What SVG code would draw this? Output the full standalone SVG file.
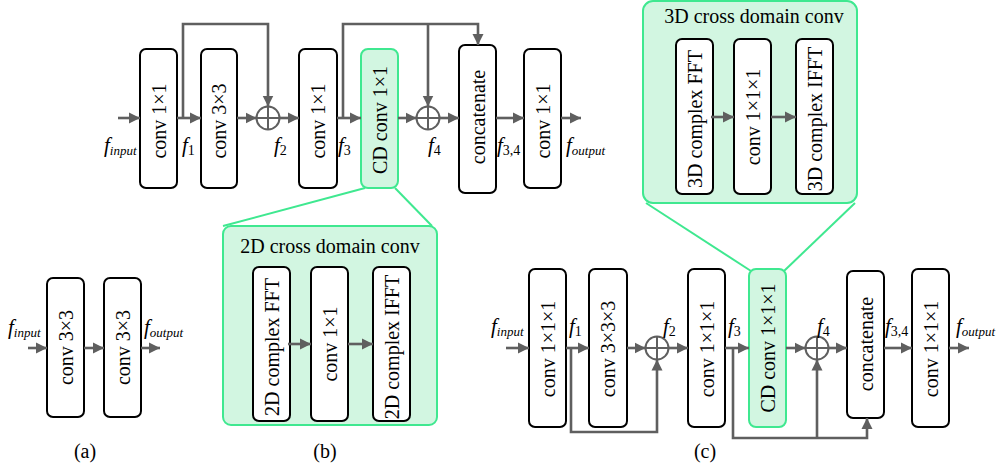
<svg xmlns="http://www.w3.org/2000/svg" width="996" height="470" viewBox="0 0 996 470">
<defs>
<marker id="ah" markerUnits="userSpaceOnUse" markerWidth="12" markerHeight="12" refX="11" refY="6" orient="auto">
<path d="M0,0.5 L11,6 L0,11.5 Z" fill="#5f5f5f"/>
</marker>
</defs>
<style>
.box{fill:#fff;stroke:#000;stroke-width:2}
.gbox{fill:#d2f6e1;stroke:#3fe890;stroke-width:2}
.gline{fill:none;stroke:#3fe890;stroke-width:2}
.c{fill:none;stroke:#5f5f5f;stroke-width:2.6}
.a{fill:none;stroke:#5f5f5f;stroke-width:2.6;marker-end:url(#ah)}
.sum{fill:#fff;stroke:#5f5f5f;stroke-width:2}
.t{font-family:"Liberation Serif","Times New Roman",serif;font-size:20px;fill:#000;text-anchor:middle}
.lab{font-family:"Liberation Serif","Times New Roman",serif;font-size:21px;fill:#000;font-style:italic}
.sub{font-size:13px}
.subn{font-size:14px;font-style:normal}
</style>

<!-- ===== (a) ===== -->
<g id="a-conv1"><rect class="box" x="47" y="278" width="37" height="139" rx="6"/><text class="t" transform="translate(65.5,347.5) rotate(-90)" y="7">conv 3×3</text></g>
<g id="a-conv2"><rect class="box" x="104" y="278" width="37" height="139" rx="6"/><text class="t" transform="translate(122.5,347.5) rotate(-90)" y="7">conv 3×3</text></g>
<g id="a-connectors">
<line class="a" x1="28" y1="348" x2="47" y2="348"/>
<line class="a" x1="84" y1="348" x2="104" y2="348"/>
<line class="a" x1="141" y1="348" x2="160" y2="348"/>
</g>
<text class="lab" x="8" y="334">f<tspan class="sub" dy="3">input</tspan></text>
<text class="lab" x="144" y="334">f<tspan class="sub" dy="3">output</tspan></text>
<text class="t" x="85" y="458">(a)</text>

<!-- ===== (b) ===== -->
<g id="b-conv1"><rect class="box" x="140" y="49" width="37" height="139" rx="6"/><text class="t" transform="translate(158.5,121) rotate(-90)" y="7">conv 1×1</text></g>
<g id="b-conv2"><rect class="box" x="201" y="49" width="36" height="139" rx="6"/><text class="t" transform="translate(219,121) rotate(-90)" y="7">conv 3×3</text></g>
<g id="b-sum1"><circle class="sum" cx="268" cy="118" r="11.5"/><path class="sum" d="M256.5,118 H279.5 M268,106.5 V129.5"/></g>
<g id="b-conv3"><rect class="box" x="299" y="49" width="38" height="139" rx="6"/><text class="t" transform="translate(318,121) rotate(-90)" y="7">conv 1×1</text></g>
<g id="b-cdconv"><rect class="gbox" x="361" y="49" width="37" height="139" rx="7"/><text class="t" transform="translate(379.5,120) rotate(-90)" y="7">CD conv 1×1</text></g>
<g id="b-sum2"><circle class="sum" cx="428" cy="118" r="11.5"/><path class="sum" d="M416.5,118 H439.5 M428,106.5 V129.5"/></g>
<g id="b-concat"><rect class="box" x="459" y="45" width="37" height="148" rx="6"/><text class="t" transform="translate(477.5,117) rotate(-90)" y="7">concatenate</text></g>
<g id="b-conv4"><rect class="box" x="524" y="49" width="37" height="139" rx="6"/><text class="t" transform="translate(542.5,121) rotate(-90)" y="7">conv 1×1</text></g>
<g id="b-connectors">
<line class="a" x1="118" y1="118" x2="140" y2="118"/>
<line class="a" x1="177" y1="118" x2="201" y2="118"/>
<polyline class="a" points="183,118 183,24 268,24 268,106.5"/>
<line class="a" x1="237" y1="118" x2="256.5" y2="118"/>
<line class="a" x1="279.5" y1="118" x2="299" y2="118"/>
<line class="a" x1="337" y1="118" x2="361" y2="118"/>
<polyline class="a" points="343,118 343,24 478,24 478,45"/>
<line class="a" x1="428" y1="24" x2="428" y2="106.5"/>
<line class="a" x1="398" y1="118" x2="416.5" y2="118"/>
<line class="a" x1="439.5" y1="118" x2="459" y2="118"/>
<line class="a" x1="496" y1="118" x2="524" y2="118"/>
<line class="a" x1="561" y1="118" x2="581" y2="118"/>
</g>
<text class="lab" x="104" y="152">f<tspan class="sub" dy="3">input</tspan></text>
<text class="lab" x="182" y="152">f<tspan class="subn" dy="3">1</tspan></text>
<text class="lab" x="274" y="152">f<tspan class="subn" dy="3">2</tspan></text>
<text class="lab" x="338" y="152">f<tspan class="subn" dy="3">3</tspan></text>
<text class="lab" x="428" y="152">f<tspan class="subn" dy="3">4</tspan></text>
<text class="lab" x="497" y="152">f<tspan class="subn" dy="3">3,4</tspan></text>
<text class="lab" x="566" y="152">f<tspan class="sub" dy="3">output</tspan></text>

<!-- 2D cross domain detail -->
<g id="b-zoom-lines">
<line class="gline" x1="365" y1="188" x2="223" y2="226"/>
<line class="gline" x1="395" y1="188" x2="432" y2="226"/>
</g>
<g id="b-detail">
<rect class="gbox" x="223" y="226" width="214" height="199" rx="8"/>
<text class="t" x="330" y="253">2D cross domain conv</text>
</g>
<g id="b-fft"><rect class="box" x="253" y="267" width="37" height="154" rx="6"/><text class="t" transform="translate(271.5,347) rotate(-90)" y="7">2D complex FFT</text></g>
<g id="b-conv11"><rect class="box" x="311" y="267" width="37" height="154" rx="6"/><text class="t" transform="translate(329.5,344) rotate(-90)" y="7">conv 1×1</text></g>
<g id="b-ifft"><rect class="box" x="373" y="267" width="37" height="154" rx="6"/><text class="t" transform="translate(391.5,347) rotate(-90)" y="7">2D complex IFFT</text></g>
<g id="b-detail-connectors">
<line class="a" x1="288" y1="344" x2="311" y2="344"/>
<line class="a" x1="348" y1="344" x2="373" y2="344"/>
</g>
<text class="t" x="325" y="458">(b)</text>

<!-- ===== (c) ===== -->
<g id="c-zoom-lines">
<line class="gline" x1="646" y1="203" x2="751" y2="271"/>
<line class="gline" x1="855" y1="203" x2="784" y2="271"/>
</g>
<g id="c-detail">
<rect class="gbox" x="643" y="1" width="214" height="202" rx="10"/>
<text class="t" x="754" y="23">3D cross domain conv</text>
</g>
<g id="c-fft"><rect class="box" x="676" y="39" width="37" height="155" rx="6"/><text class="t" transform="translate(694.5,119) rotate(-90)" y="7">3D complex FFT</text></g>
<g id="c-conv111"><rect class="box" x="734" y="39" width="37" height="155" rx="6"/><text class="t" transform="translate(752.5,117) rotate(-90)" y="7">conv 1×1×1</text></g>
<g id="c-ifft"><rect class="box" x="796" y="39" width="37" height="155" rx="6"/><text class="t" transform="translate(814.5,119) rotate(-90)" y="7">3D complex IFFT</text></g>
<g id="c-detail-connectors">
<line class="a" x1="711" y1="117" x2="734" y2="117"/>
<line class="a" x1="771" y1="117" x2="796" y2="117"/>
</g>

<g id="c-conv1"><rect class="box" x="529" y="269" width="37" height="158" rx="6"/><text class="t" transform="translate(547.5,349) rotate(-90)" y="7">conv 1×1×1</text></g>
<g id="c-conv2"><rect class="box" x="589" y="269" width="38" height="158" rx="6"/><text class="t" transform="translate(608,349) rotate(-90)" y="7">conv 3×3×3</text></g>
<g id="c-sum1"><circle class="sum" cx="657" cy="348" r="11.5"/><path class="sum" d="M645.5,348 H668.5 M657,336.5 V359.5"/></g>
<g id="c-conv3"><rect class="box" x="688" y="269" width="37" height="158" rx="6"/><text class="t" transform="translate(706.5,349) rotate(-90)" y="7">conv 1×1×1</text></g>
<g id="c-cdconv"><rect class="gbox" x="749" y="269" width="37" height="158" rx="7"/><text class="t" transform="translate(767.5,348) rotate(-90)" y="7">CD conv 1×1×1</text></g>
<g id="c-sum2"><circle class="sum" cx="817" cy="348" r="11.5"/><path class="sum" d="M805.5,348 H828.5 M817,336.5 V359.5"/></g>
<g id="c-concat"><rect class="box" x="847" y="271" width="37" height="147" rx="6"/><text class="t" transform="translate(865.5,344) rotate(-90)" y="7">concatenate</text></g>
<g id="c-conv4"><rect class="box" x="912" y="269" width="37" height="158" rx="6"/><text class="t" transform="translate(930.5,349) rotate(-90)" y="7">conv 1×1×1</text></g>
<g id="c-connectors">
<line class="a" x1="506" y1="348" x2="529" y2="348"/>
<line class="a" x1="566" y1="348" x2="589" y2="348"/>
<polyline class="a" points="571,348 571,432 657,432 657,359.5"/>
<line class="a" x1="627" y1="348" x2="645.5" y2="348"/>
<line class="a" x1="668.5" y1="348" x2="688" y2="348"/>
<line class="a" x1="725" y1="348" x2="749" y2="348"/>
<polyline class="a" points="733,348 733,438 867,438 867,418"/>
<line class="a" x1="817" y1="438" x2="817" y2="359.5"/>
<line class="a" x1="786" y1="348" x2="805.5" y2="348"/>
<line class="a" x1="828.5" y1="348" x2="847" y2="348"/>
<line class="a" x1="884" y1="348" x2="912" y2="348"/>
<line class="a" x1="949" y1="348" x2="969" y2="348"/>
</g>
<text class="lab" x="491" y="333">f<tspan class="sub" dy="3">input</tspan></text>
<text class="lab" x="569" y="333">f<tspan class="subn" dy="3">1</tspan></text>
<text class="lab" x="663" y="333">f<tspan class="subn" dy="3">2</tspan></text>
<text class="lab" x="728" y="333">f<tspan class="subn" dy="3">3</tspan></text>
<text class="lab" x="817" y="333">f<tspan class="subn" dy="3">4</tspan></text>
<text class="lab" x="885" y="333">f<tspan class="subn" dy="3">3,4</tspan></text>
<text class="lab" x="956" y="333">f<tspan class="sub" dy="3">output</tspan></text>
<text class="t" x="705" y="458">(c)</text>
</svg>
